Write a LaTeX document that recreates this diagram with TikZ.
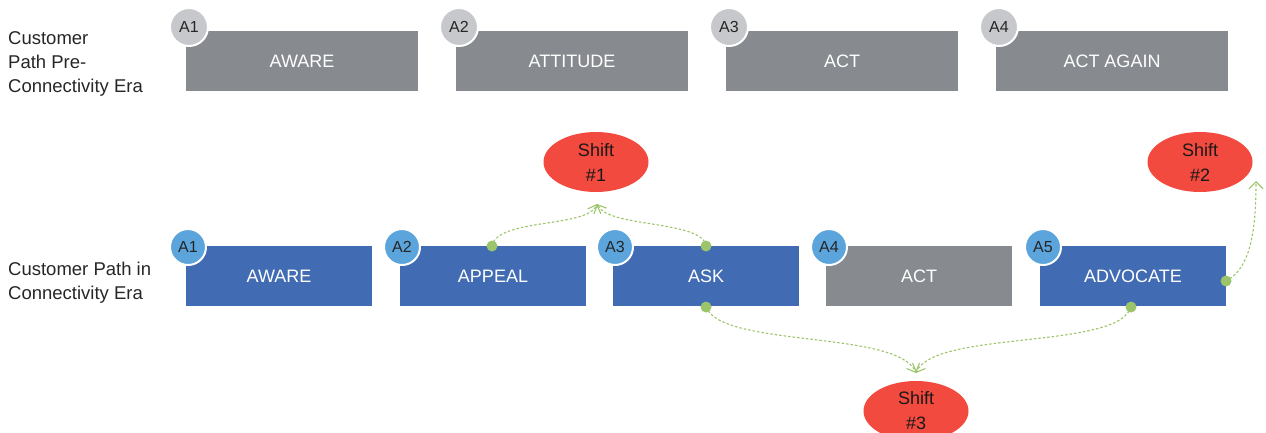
\documentclass[tikz,border=0pt]{standalone}
\usepackage{fontspec}
\setmainfont{Liberation Sans}
\usetikzlibrary{shapes.geometric,arrows.meta}
\definecolor{boxgray}{HTML}{878A8F}
\definecolor{badgegray}{HTML}{C6C8CB}
\definecolor{boxblue}{HTML}{416BB2}
\definecolor{badgeblue}{HTML}{5BA4DC}
\definecolor{shiftred}{HTML}{F24A3E}
\definecolor{linkgreen}{HTML}{9CC46B}
\tikzset{
  stage/.style={minimum width=232pt, minimum height=60pt, inner sep=0pt,
    text=white, font=\fontsize{18pt}{22pt}\selectfont},
  oldstage/.style={stage, fill=boxgray},
  newstage/.style={stage, fill=boxblue, minimum width=186pt},
  badge/.style={circle, minimum size=38pt, inner sep=0pt, draw=white, line width=2pt,
    font=\fontsize{16pt}{18pt}\selectfont, text=black!85},
  oldbadge/.style={badge, fill=badgegray},
  newbadge/.style={badge, fill=badgeblue, minimum size=36pt},
  shiftnode/.style={ellipse, fill=shiftred, minimum width=105pt, minimum height=60pt,
    inner sep=0pt, align=center, font=\fontsize{18pt}{25pt}\selectfont, text=black!90},
  rowlabel/.style={anchor=north west, align=left, inner sep=0pt,
    font=\fontsize{18.5pt}{24pt}\selectfont, text=black!85},
  linkdot/.style={circle, fill=linkgreen, minimum size=11pt, inner sep=0pt},
  link/.style={draw=linkgreen, line width=1.1pt, dash pattern=on 2.5pt off 2pt,
    -{Straight Barb[length=7pt,width=14pt]}}
}
\begin{document}
\begin{tikzpicture}[x=1pt,y=-1pt]
  \useasboundingbox (0,0) rectangle (1266,432);
  \clip (0,0) rectangle (1266,432);

  % row labels
  \node[rowlabel] (lab1) at (8,31) {Customer\\Path Pre-\\Connectivity Era};
  \node[rowlabel] (lab2) at (8,262) {Customer Path in\\Connectivity Era};

  % pre-connectivity path
  \node[oldstage] (o1) at (302,61) {AWARE};
  \node[oldstage] (o2) at (572,61) {ATTITUDE};
  \node[oldstage] (o3) at (842,61) {ACT};
  \node[oldstage] (o4) at (1112,61) {ACT AGAIN};
  \node[oldbadge] (ob1) at (189,27) {A1};
  \node[oldbadge] (ob2) at (459,27) {A2};
  \node[oldbadge] (ob3) at (729,27) {A3};
  \node[oldbadge] (ob4) at (999,27) {A4};

  % connectivity path
  \node[newstage] (n1) at (279,276) {AWARE};
  \node[newstage] (n2) at (493,276) {APPEAL};
  \node[newstage] (n3) at (706,276) {ASK};
  \node[newstage, fill=boxgray] (n4) at (919,276) {ACT};
  \node[newstage] (n5) at (1133,276) {ADVOCATE};
  \node[newbadge] (nb1) at (188,247) {A1};
  \node[newbadge] (nb2) at (402,247) {A2};
  \node[newbadge] (nb3) at (615,247) {A3};
  \node[newbadge] (nb4) at (829,247) {A4};
  \node[newbadge] (nb5) at (1043,247) {A5};

  % shifts
  \node[shiftnode] (s1) at (596,162) {Shift\\\#1};
  \node[shiftnode] (s2) at (1200,162) {Shift\\\#2};
  \node[shiftnode] (s3) at (916,411) {Shift\\\#3};

  \coordinate (t1) at (597,204);
  \coordinate (t2) at (1256,181);
  \coordinate (t3) at (916,373);

  % links
  \draw[link] (492,246) .. controls (497,218) and (588,228) .. (t1);
  \draw[link] (706,246) .. controls (703,220) and (608,228) .. (t1);
  \draw[link] (1226,281) .. controls (1252,268) and (1256,225) .. (t2);
  \draw[link] (706,307) .. controls (722,348) and (898,330) .. (t3);
  \draw[link] (1131,307) .. controls (1118,350) and (934,330) .. (t3);

  \node[linkdot] (d1) at (492,246) {};
  \node[linkdot] (d2) at (706,246) {};
  \node[linkdot] (d3) at (1226,281) {};
  \node[linkdot] (d4) at (706,307) {};
  \node[linkdot] (d5) at (1131,307) {};
\end{tikzpicture}
\end{document}
